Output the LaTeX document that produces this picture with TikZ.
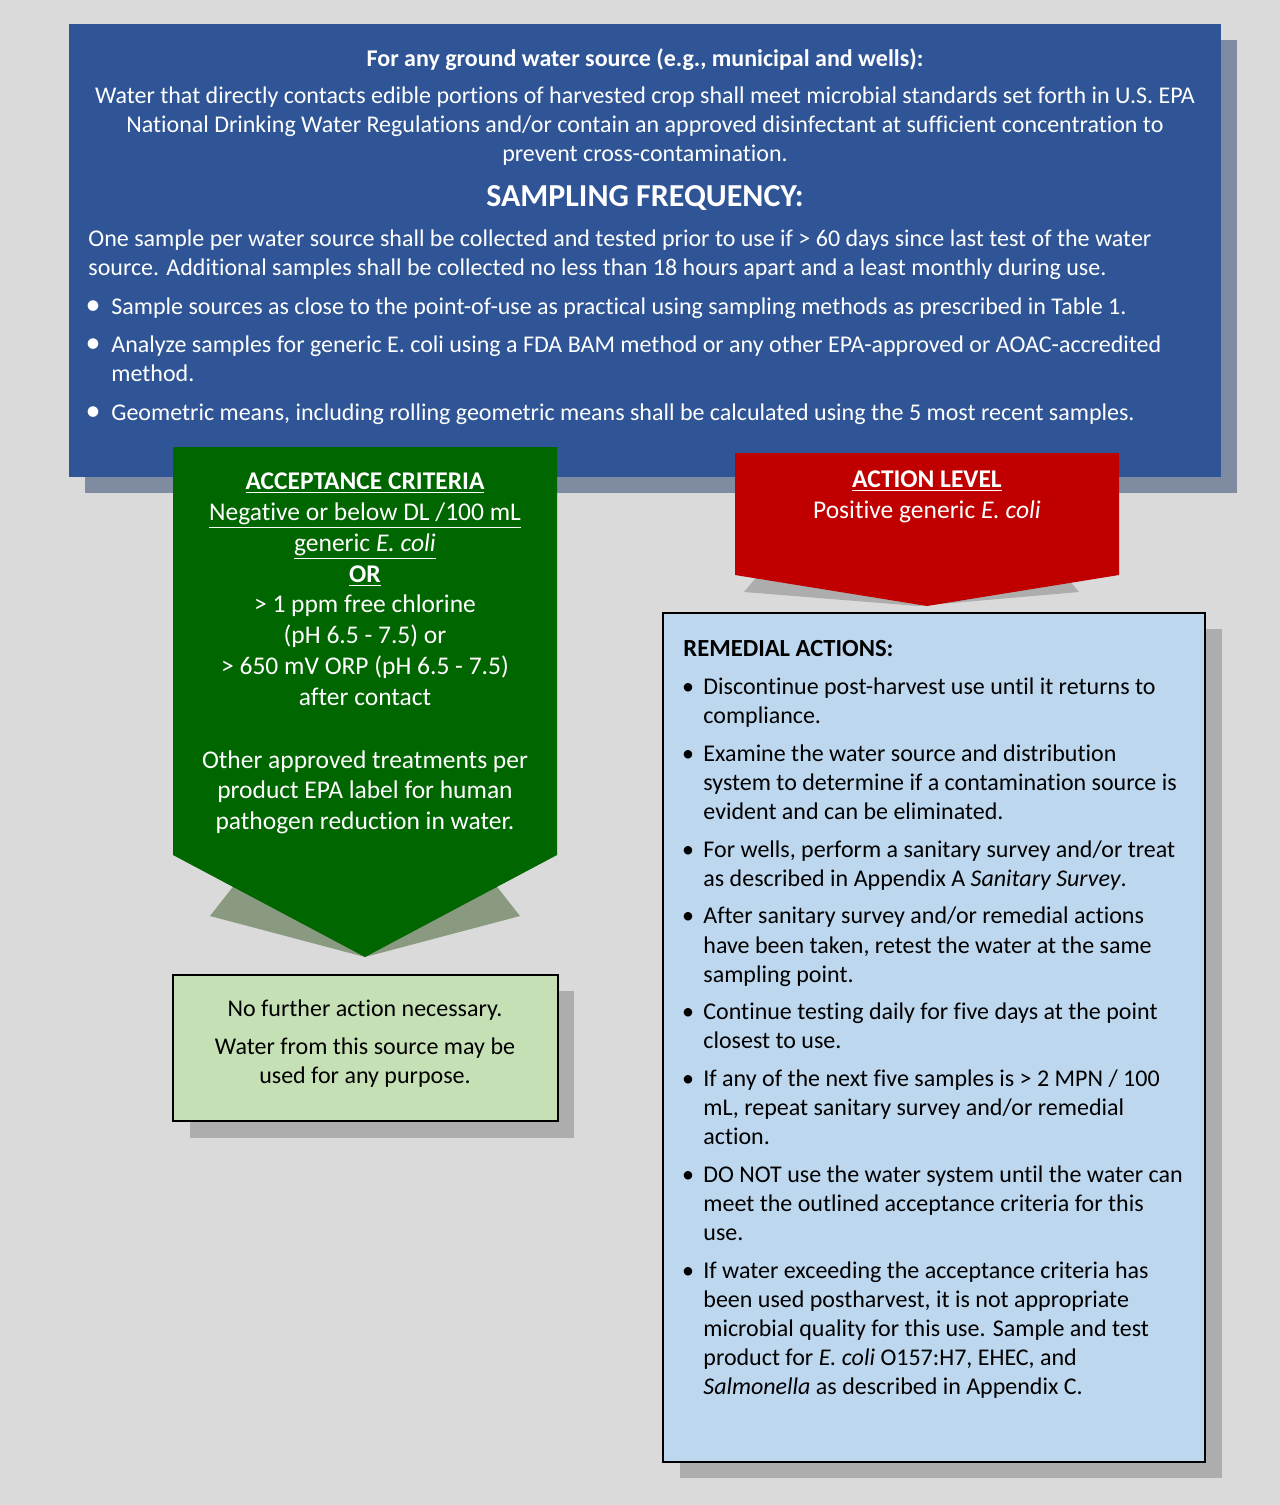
\documentclass[tikz,border=0pt]{standalone}
\usepackage{fontspec}
\setmainfont{Carlito}[Ligatures=NoCommon]
\definecolor{bg}{HTML}{DADADA}
\definecolor{hdrblue}{HTML}{2F5597}
\definecolor{hdrshadow}{HTML}{7F8BA0}
\definecolor{arrgreen}{HTML}{006600}
\definecolor{greenshadow}{HTML}{8A9A80}
\definecolor{arrred}{HTML}{C00000}
\definecolor{greyshadow}{HTML}{ADADAD}
\definecolor{lightgreen}{HTML}{C5E0B4}
\definecolor{lightblue}{HTML}{BDD7EE}
\newcommand{\bodyfont}{\fontsize{12}{14.5}\selectfont}
\newcommand{\bigfont}{\fontsize{12.75}{15.5}\selectfont}
\newcommand{\ecoli}{\textit{E. coli}}
\begin{document}
\begin{tikzpicture}[x=0.5pt,y=-0.5pt,
  wc/.style={inner sep=0, text=white, anchor=base, font=\bodyfont},
  wcb/.style={inner sep=0, text=white, anchor=base, font=\bfseries\bodyfont},
  wl/.style={inner sep=0, text=white, anchor=base west, font=\bodyfont},
  wbul/.style={inner sep=0, text=white, anchor=base, font=\fontsize{15}{15}\selectfont},
  gc/.style={inner sep=0, text=white, anchor=base, font=\bigfont},
  gcb/.style={inner sep=0, text=white, anchor=base, font=\bfseries\bigfont},
  kc/.style={inner sep=0, text=black, anchor=base, font=\bodyfont},
  kl/.style={inner sep=0, text=black, anchor=base west, font=\bodyfont},
  kbul/.style={inner sep=0, text=black, anchor=base, font=\bodyfont},
  boxline/.style={draw=black, line width=1.1pt}]
\useasboundingbox (0,0) rectangle (1280,1505);
\fill[bg] (0,0) rectangle (1280,1505);

% header box
\fill[hdrshadow] (85,40) rectangle (1237,493);
\fill[hdrblue] (69,24) rectangle (1221,477);

% green arrow
\fill[greenshadow] (254,860) -- (210,916) -- (365,957) -- (520,916) -- (476,860) -- cycle;
\fill[arrgreen] (173,447) -- (557,447) -- (557,855) -- (365,957) -- (173,855) -- cycle;

% red arrow
\fill[greyshadow] (771,560) -- (744,592) -- (918,606) -- (1079,592) -- (1052,560) -- cycle;
\fill[arrred] (735,453) -- (1119,453) -- (1119,575) -- (927,606) -- (735,575) -- cycle;

% remedial box
\fill[greyshadow] (680,629) rectangle (1222,1478);
\filldraw[fill=lightblue, boxline] (663,613) rectangle (1205,1462);

% no further action box
\fill[greyshadow] (190,991) rectangle (574,1138);
\filldraw[fill=lightgreen, boxline] (173,975) rectangle (558,1121);

% header text
\node[wcb] (h0) at (645,66) {For any ground water source (e.g., municipal and wells):};
\node[wc] (h1) at (645,103) {Water that directly contacts edible portions of harvested crop shall meet microbial standards set forth in U.S. EPA};
\node[wc] (h2) at (645,132) {National Drinking Water Regulations and/or contain an approved disinfectant at sufficient concentration to};
\node[wc] (h3) at (645,161) {prevent cross-contamination.};
\node[inner sep=0, text=white, anchor=base, font=\bfseries\fontsize{16}{19}\selectfont] (sf) at (645,206) {SAMPLING FREQUENCY:};
\node[wl] (s1) at (88,246) {One sample per water source shall be collected and tested prior to use if > 60 days since last test of the water};
\node[wl] (s2) at (88,275) {source. Additional samples shall be collected no less than 18 hours apart and a least monthly during use.};
\node[wbul] (b1) at (93,314) {\textbullet};
\node[wl] (b1a) at (111,314) {Sample sources as close to the point-of-use as practical using sampling methods as prescribed in Table 1.};
\node[wbul] (b2) at (93,352) {\textbullet};
\node[wl] (b2a) at (111,352) {Analyze samples for generic E. coli using a FDA BAM method or any other EPA-approved or AOAC-accredited};
\node[wl] (b2b) at (111,381) {method.};
\node[wbul] (b3) at (93,420) {\textbullet};
\node[wl] (b3a) at (111,420) {Geometric means, including rolling geometric means shall be calculated using the 5 most recent samples.};

% acceptance criteria text
\node[gcb] (a1) at (365,489) {\underline{ACCEPTANCE CRITERIA}};
\node[gc] (a2) at (365,520) {\underline{Negative or below DL /100 mL}};
\node[gc] (a3) at (365,551) {\underline{generic \ecoli}};
\node[gcb] (a4) at (365,582) {\underline{OR}};
\node[gc] (a5) at (365,612) {> 1 ppm free chlorine};
\node[gc] (a6) at (365,643) {(pH 6.5 - 7.5) or};
\node[gc] (a7) at (365,674) {> 650 mV ORP (pH 6.5 - 7.5)};
\node[gc] (a8) at (365,705) {after contact};
\node[gc] (a9) at (365,768) {Other approved treatments per};
\node[gc] (a10) at (365,798) {product EPA label for human};
\node[gc] (a11) at (365,829) {pathogen reduction in water.};

% action level text
\node[gcb] (r1) at (927,487) {\underline{ACTION LEVEL}};
\node[gc] (r2) at (927,518) {Positive generic \ecoli};

% no further action text
\node[kc] (n1) at (365,1016) {No further action necessary.};
\node[kc] (n2) at (365,1054) {Water from this source may be};
\node[kc] (n3) at (365,1083) {used for any purpose.};

% remedial actions
\node[kl, font=\bfseries\fontsize{12.3}{14.5}\selectfont] (m0) at (683,656) {REMEDIAL ACTIONS:};
\node[kbul] (m1) at (688,694) {\textbullet};
\node[kl] (m1a) at (703,694) {Discontinue post-harvest use until it returns to};
\node[kl] (m1b) at (703,723) {compliance.};
\node[kbul] (m2) at (688,761) {\textbullet};
\node[kl] (m2a) at (703,761) {Examine the water source and distribution};
\node[kl] (m2b) at (703,790) {system to determine if a contamination source is};
\node[kl] (m2c) at (703,819) {evident and can be eliminated.};
\node[kbul] (m3) at (688,857) {\textbullet};
\node[kl] (m3a) at (703,857) {For wells, perform a sanitary survey and/or treat};
\node[kl] (m3b) at (703,886) {as described in Appendix A \textit{Sanitary Survey}.};
\node[kbul] (m4) at (688,923) {\textbullet};
\node[kl] (m4a) at (703,923) {After sanitary survey and/or remedial actions};
\node[kl] (m4b) at (703,953) {have been taken, retest the water at the same};
\node[kl] (m4c) at (703,982) {sampling point.};
\node[kbul] (m5) at (688,1019) {\textbullet};
\node[kl] (m5a) at (703,1019) {Continue testing daily for five days at the point};
\node[kl] (m5b) at (703,1048) {closest to use.};
\node[kbul] (m6) at (688,1086) {\textbullet};
\node[kl] (m6a) at (703,1086) {If any of the next five samples is > 2 MPN / 100};
\node[kl] (m6b) at (703,1115) {mL, repeat sanitary survey and/or remedial};
\node[kl] (m6c) at (703,1144) {action.};
\node[kbul] (m7) at (688,1182) {\textbullet};
\node[kl] (m7a) at (703,1182) {DO NOT use the water system until the water can};
\node[kl] (m7b) at (703,1211) {meet the outlined acceptance criteria for this};
\node[kl] (m7c) at (703,1240) {use.};
\node[kbul] (m8) at (688,1278) {\textbullet};
\node[kl] (m8a) at (703,1278) {If water exceeding the acceptance criteria has};
\node[kl] (m8b) at (703,1307) {been used postharvest, it is not appropriate};
\node[kl] (m8c) at (703,1336) {microbial quality for this use. Sample and test};
\node[kl] (m8d) at (703,1365) {product for \ecoli{} O157:H7, EHEC, and};
\node[kl] (m8e) at (703,1394) {\textit{Salmonella} as described in Appendix C.};
\end{tikzpicture}
\end{document}
